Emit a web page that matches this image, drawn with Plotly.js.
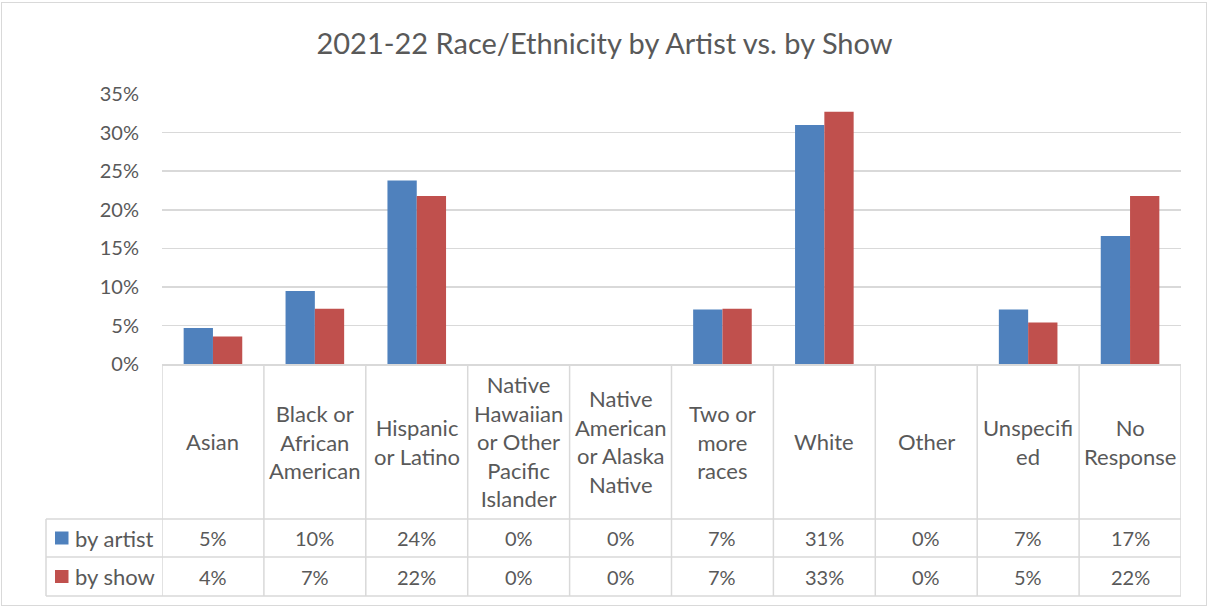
<!DOCTYPE html>
<html>
<head>
<meta charset="utf-8">
<script src="https://cdn.plot.ly/plotly-3.0.1.min.js"></script>
<style>
  html, body { margin: 0; padding: 0; background: #fff; }
  #wrap { position: relative; width: 1209px; height: 607px; }
  #chart { width: 1209px; height: 607px; }
  #frame { position: absolute; left: 1px; top: 2px; width: 1204px; height: 602px;
           border: 1px solid #d9d9d9; pointer-events: none; }
</style>
</head>
<body>
<div id="wrap"><div id="chart"></div><div id="frame"></div></div>
<script>
// ---- data ----
const categories = ["Asian", "Black or African American", "Hispanic or Latino",
  "Native Hawaiian or Other Pacific Islander", "Native American or Alaska Native",
  "Two or more races", "White", "Other", "Unspecified", "No Response"];
const categoryLabels = ["Asian", "Black or<br>African<br>American", "Hispanic<br>or Latino",
  "Native<br>Hawaiian<br>or Other<br>Pacific<br>Islander", "Native<br>American<br>or Alaska<br>Native",
  "Two or<br>more<br>races", "White", "Other", "Unspecifi<br>ed", "No<br>Response"];
const seriesNames = ["by artist", "by show"];
const byArtist = [4.7, 9.5, 23.8, 0, 0, 7.1, 31.0, 0, 7.1, 16.6];
const byShow   = [3.6, 7.2, 21.8, 0, 0, 7.2, 32.7, 0, 5.4, 21.8];
const seriesColors = ["#4F81BD", "#C0504D"];
const yTicks = [0, 5, 10, 15, 20, 25, 30, 35];
const yTickLabels = ["0%", "5%", "10%", "15%", "20%", "25%", "30%", "35%"];

// ---- layout helpers (pixel -> paper) ----
const W = 1209, H = 607;
const mL = 162, mR = 28, mT = 94, mB = 11;
const plotW = W - mL - mR, plotH = H - mT - mB;
const px = p => (p - mL) / plotW;
const py = p => (H - mB - p) / plotH;

const font = "Lato, 'Open Sans', sans-serif";
const txt = "#595959";
const grid = "#d9d9d9";

const xIdx = categories.map((c, i) => i);
const traces = [byArtist, byShow].map((vals, s) => ({
  type: "bar",
  x: xIdx,
  y: vals,
  name: seriesNames[s],
  marker: { color: seriesColors[s], line: { width: 0 } },
  hoverinfo: "skip"
}));

const domBottom = py(364.3);
const rowTop = py(519), rowMid = py(557), rowBot = py(596);
const rowCenters = [py(538), py(576.5)];
const headerCenter = py(441.5);

const shapes = [];
const lineStyle = { color: grid, width: 1.5 };
// vertical table lines
for (let k = 0; k <= categories.length; k++) {
  shapes.push({ type: "line", xref: "x", yref: "paper", x0: k - 0.5, x1: k - 0.5,
                y0: rowBot, y1: domBottom, line: lineStyle });
}
// left table edge
shapes.push({ type: "line", xref: "paper", yref: "paper", x0: px(46), x1: px(46),
              y0: rowBot, y1: rowTop, line: lineStyle });
// horizontal table lines
[rowTop, rowMid, rowBot].forEach(y => {
  shapes.push({ type: "line", xref: "paper", yref: "paper", x0: px(46), x1: 1,
                y0: y, y1: y, line: lineStyle });
});
// legend keys
const half = 6.5 / plotH;
seriesColors.forEach((c, s) => {
  shapes.push({ type: "rect", xref: "paper", yref: "paper", x0: px(55), x1: px(68.5),
                y0: rowCenters[s] - half, y1: rowCenters[s] + half,
                fillcolor: c, line: { width: 0 } });
});

const annotations = [];
// header labels
categoryLabels.forEach((lab, i) => {
  annotations.push({ xref: "x", yref: "paper", x: i, y: headerCenter, text: lab,
    showarrow: false, xanchor: "center", yanchor: "middle", align: "center",
    font: { family: font, size: 22, color: txt } });
});
// table values
[byArtist, byShow].forEach((vals, s) => {
  vals.forEach((v, i) => {
    annotations.push({ xref: "x", yref: "paper", x: i, y: rowCenters[s],
      text: Math.round(v) + "%", showarrow: false, xanchor: "center", yanchor: "middle",
      font: { family: font, size: 20, color: txt } });
  });
  annotations.push({ xref: "paper", yref: "paper", x: px(73), y: rowCenters[s],
    text: seriesNames[s], showarrow: false, xanchor: "left", yanchor: "middle",
    font: { family: font, size: 22, color: txt } });
});

const layout = {
  width: W, height: H,
  margin: { l: mL, r: mR, t: mT, b: mB, pad: 0 },
  paper_bgcolor: "#fff", plot_bgcolor: "#fff",
  title: { text: "2021-22 Race/Ethnicity by Artist vs. by Show",
           font: { family: font, size: 29, color: txt },
           x: 0.5, xanchor: "center", y: 1 - 44 / H, yanchor: "middle" },
  showlegend: false,
  barmode: "group",
  bargap: 0.425, bargroupgap: 0,
  xaxis: { range: [-0.5, categories.length - 0.5], showticklabels: false,
           showgrid: false, zeroline: false, showline: true, linecolor: grid, linewidth: 1.5,
           ticks: "", fixedrange: true },
  yaxis: { domain: [domBottom, 1], range: [0, 35], tickvals: yTicks, ticktext: yTickLabels,
           showgrid: true, gridcolor: grid, gridwidth: 1.5, zeroline: false, showline: false,
           ticks: "", ticklabelstandoff: 22,
           tickfont: { family: font, size: 20, color: txt }, fixedrange: true },
  shapes: shapes,
  annotations: annotations
};

Plotly.newPlot("chart", traces, layout, { displayModeBar: false, staticPlot: true });
</script>
</body>
</html>
